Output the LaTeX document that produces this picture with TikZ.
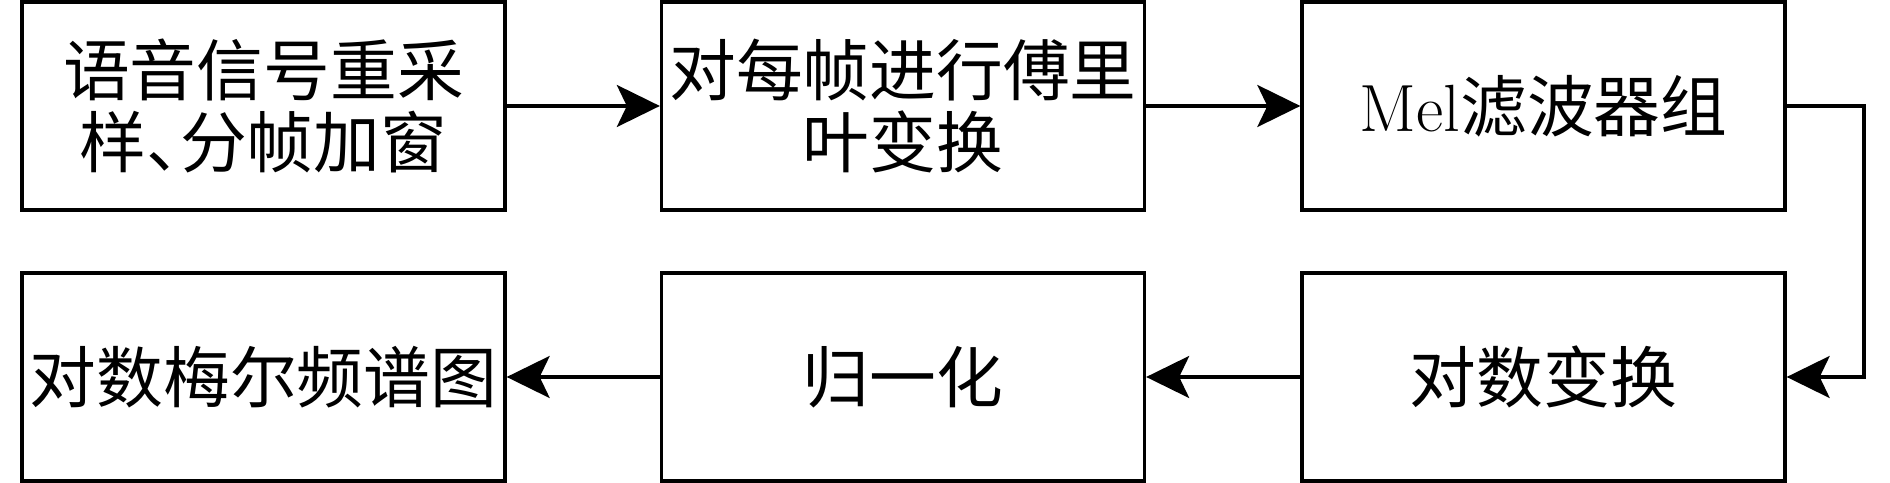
\documentclass[tikz,border=0pt]{standalone}
\usepackage{fontspec}
\newfontfamily\cjk{Noto Sans CJK SC}
\usetikzlibrary{arrows.meta}
\begin{document}
\begin{tikzpicture}[
  box/.style={draw=black, line width=0.95pt, rectangle, minimum width=4.83cm, minimum height=2.08cm,
    inner sep=0pt, align=center, font=\fontsize{19pt}{20.5pt}\selectfont\cjk},
  conn/.style={line width=0.95pt, -{Stealth[length=0.43cm,width=0.42cm,inset=0.1cm]}}
]
\useasboundingbox (0,0) rectangle (18.9,-4.83);
\node[box] (b1) at (2.635,-1.06) {语音信号重采\\样、\kern-0.5em分帧加窗};
\node[box] (b2) at (9.03,-1.06) {对每帧进行傅里\\叶变换};
\node[box] (b3) at (15.435,-1.06) {{\rmfamily Mel}滤波器组};
\node[box] (b4) at (15.435,-3.77) {对数变换};
\node[box] (b5) at (9.03,-3.77) {归一化};
\node[box] (b6) at (2.635,-3.77) {对数梅尔频谱图};
\coordinate (c1) at (18.64,-1.06);
\coordinate (c2) at (18.64,-3.77);
\draw[conn] (b1) -- (b2);
\draw[conn] (b2) -- (b3);
\draw[conn] (b3.east) -- (c1) -- (c2) -- (b4.east);
\draw[conn] (b4) -- (b5);
\draw[conn] (b5) -- (b6);
\end{tikzpicture}
\end{document}
